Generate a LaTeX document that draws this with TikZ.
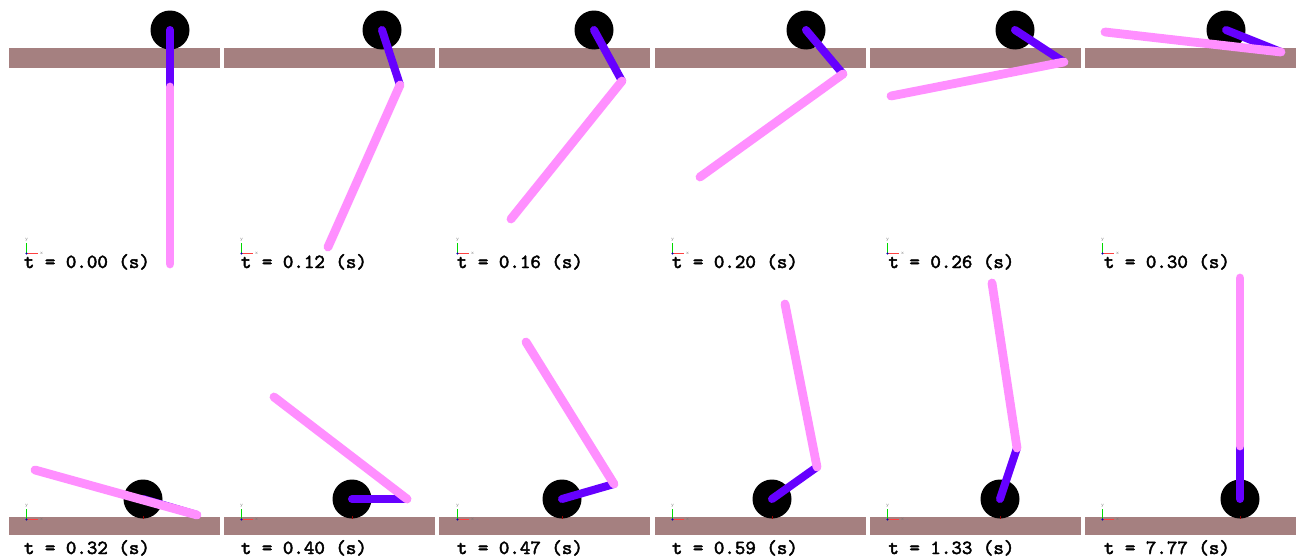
\documentclass[tikz,border=0pt]{standalone}
\usepackage{fontspec}
\setmonofont[FakeBold=2.2]{Latin Modern Mono}
\definecolor{barc}{HTML}{A58080}
\definecolor{armc}{HTML}{6600FF}
\definecolor{legc}{HTML}{FF8FFF}
\tikzset{
  floorbar/.style={fill=barc,draw=none},
  hubdisc/.style={circle,fill=black,draw=none,minimum size=19.5pt,inner sep=0pt},
  armlink/.style={draw=armc,line width=4pt,line cap=round},
  leglink/.style={draw=legc,line width=4.4pt,line cap=round},
  timelabel/.style={anchor=base west,inner sep=0pt,font=\ttfamily\fontsize{10}{12}\selectfont},
  axisx/.style={draw=red!75!white,line width=0.55pt},
  axisy/.style={draw=green!85!black,line width=0.55pt},
  axisdot/.style={fill=blue!70!black,draw=none},
  axislabel/.style={inner sep=0pt,text=black!55,font=\sffamily\fontsize{2.5}{3}\selectfont},
  hubmark/.style={draw=red!60!black,line width=0.4pt}
}
\begin{document}
\begin{tikzpicture}[x=0.5pt,y=-0.5pt]
\useasboundingbox (0,0) rectangle (1298,557);
\foreach \n/\bx/\hx/\jx/\jy/\tx/\ty/\ox/\lx/\tm in {
 a/9/170/170/87/170/264/26.5/23.5/0.00,
 b/224/382/400/85/328/247/241.5/240.5/0.12,
 c/439/594/622/81/511/219/457.5/456.5/0.16,
 d/655/806/843/74/700/177/672.5/671.5/0.20,
 e/870/1015/1064/62/891/96/887.5/888/0.26,
 f/1085/1226/1281/52/1105/32/1102.5/1103.5/0.30}{
  \fill[floorbar] (\bx,48) rectangle ++(211,20);
  \node[hubdisc] (hub\n) at (\hx,30) {};
  \coordinate (joint\n) at (\jx,\jy);
  \coordinate (tip\n) at (\tx,\ty);
  \draw[armlink] (hub\n.center) -- (joint\n);
  \draw[leglink] (joint\n) -- (tip\n);
  \coordinate (or\n) at (\ox,253.5);
  \coordinate (ex\n) at (\ox+11,253.5);
  \coordinate (ey\n) at (\ox,242.5);
  \draw[axisx] (or\n) -- (ex\n);
  \draw[axisy] (or\n) -- (ey\n);
  \fill[axisdot] (or\n) circle (0.6pt);
  \node[axislabel] (lx\n) at (\ox+15,253.5) {x};
  \node[axislabel] (ly\n) at (\ox,239.5) {y};
  \node[timelabel] (time\n) at (\lx,268) {t = \tm{} (s)};
}
\foreach \n/\bx/\hx/\jx/\jy/\tx/\ty/\ox/\lx/\tm in {
 g/9/143/197/515/35/470/26.5/23.5/0.32,
 h/224/352/407/499/274/397/241.5/240.5/0.40,
 i/439/562/614/484/526/342/457.5/456.5/0.47,
 j/655/772/817/467/785/304/672.5/671.5/0.59,
 k/870/1000/1017/448/992/283/887.5/888/1.33,
 l/1085/1240/1240/446/1240/278/1102.5/1103.5/7.77}{
  \fill[floorbar] (\bx,517) rectangle ++(211,18);
  \node[hubdisc] (hub\n) at (\hx,499) {};
  \draw[hubmark] (hub\n.south) -- ++(0,-3);
  \coordinate (joint\n) at (\jx,\jy);
  \coordinate (tip\n) at (\tx,\ty);
  \draw[armlink] (hub\n.center) -- (joint\n);
  \draw[leglink] (joint\n) -- (tip\n);
  \coordinate (or\n) at (\ox,519.5);
  \coordinate (ex\n) at (\ox+11,519.5);
  \coordinate (ey\n) at (\ox,508.5);
  \draw[axisx] (or\n) -- (ex\n);
  \draw[axisy] (or\n) -- (ey\n);
  \fill[axisdot] (or\n) circle (0.6pt);
  \node[axislabel] (lx\n) at (\ox+15,519.5) {x};
  \node[axislabel] (ly\n) at (\ox,505.5) {y};
  \node[timelabel] (time\n) at (\lx,554) {t = \tm{} (s)};
}
\end{tikzpicture}
\end{document}
